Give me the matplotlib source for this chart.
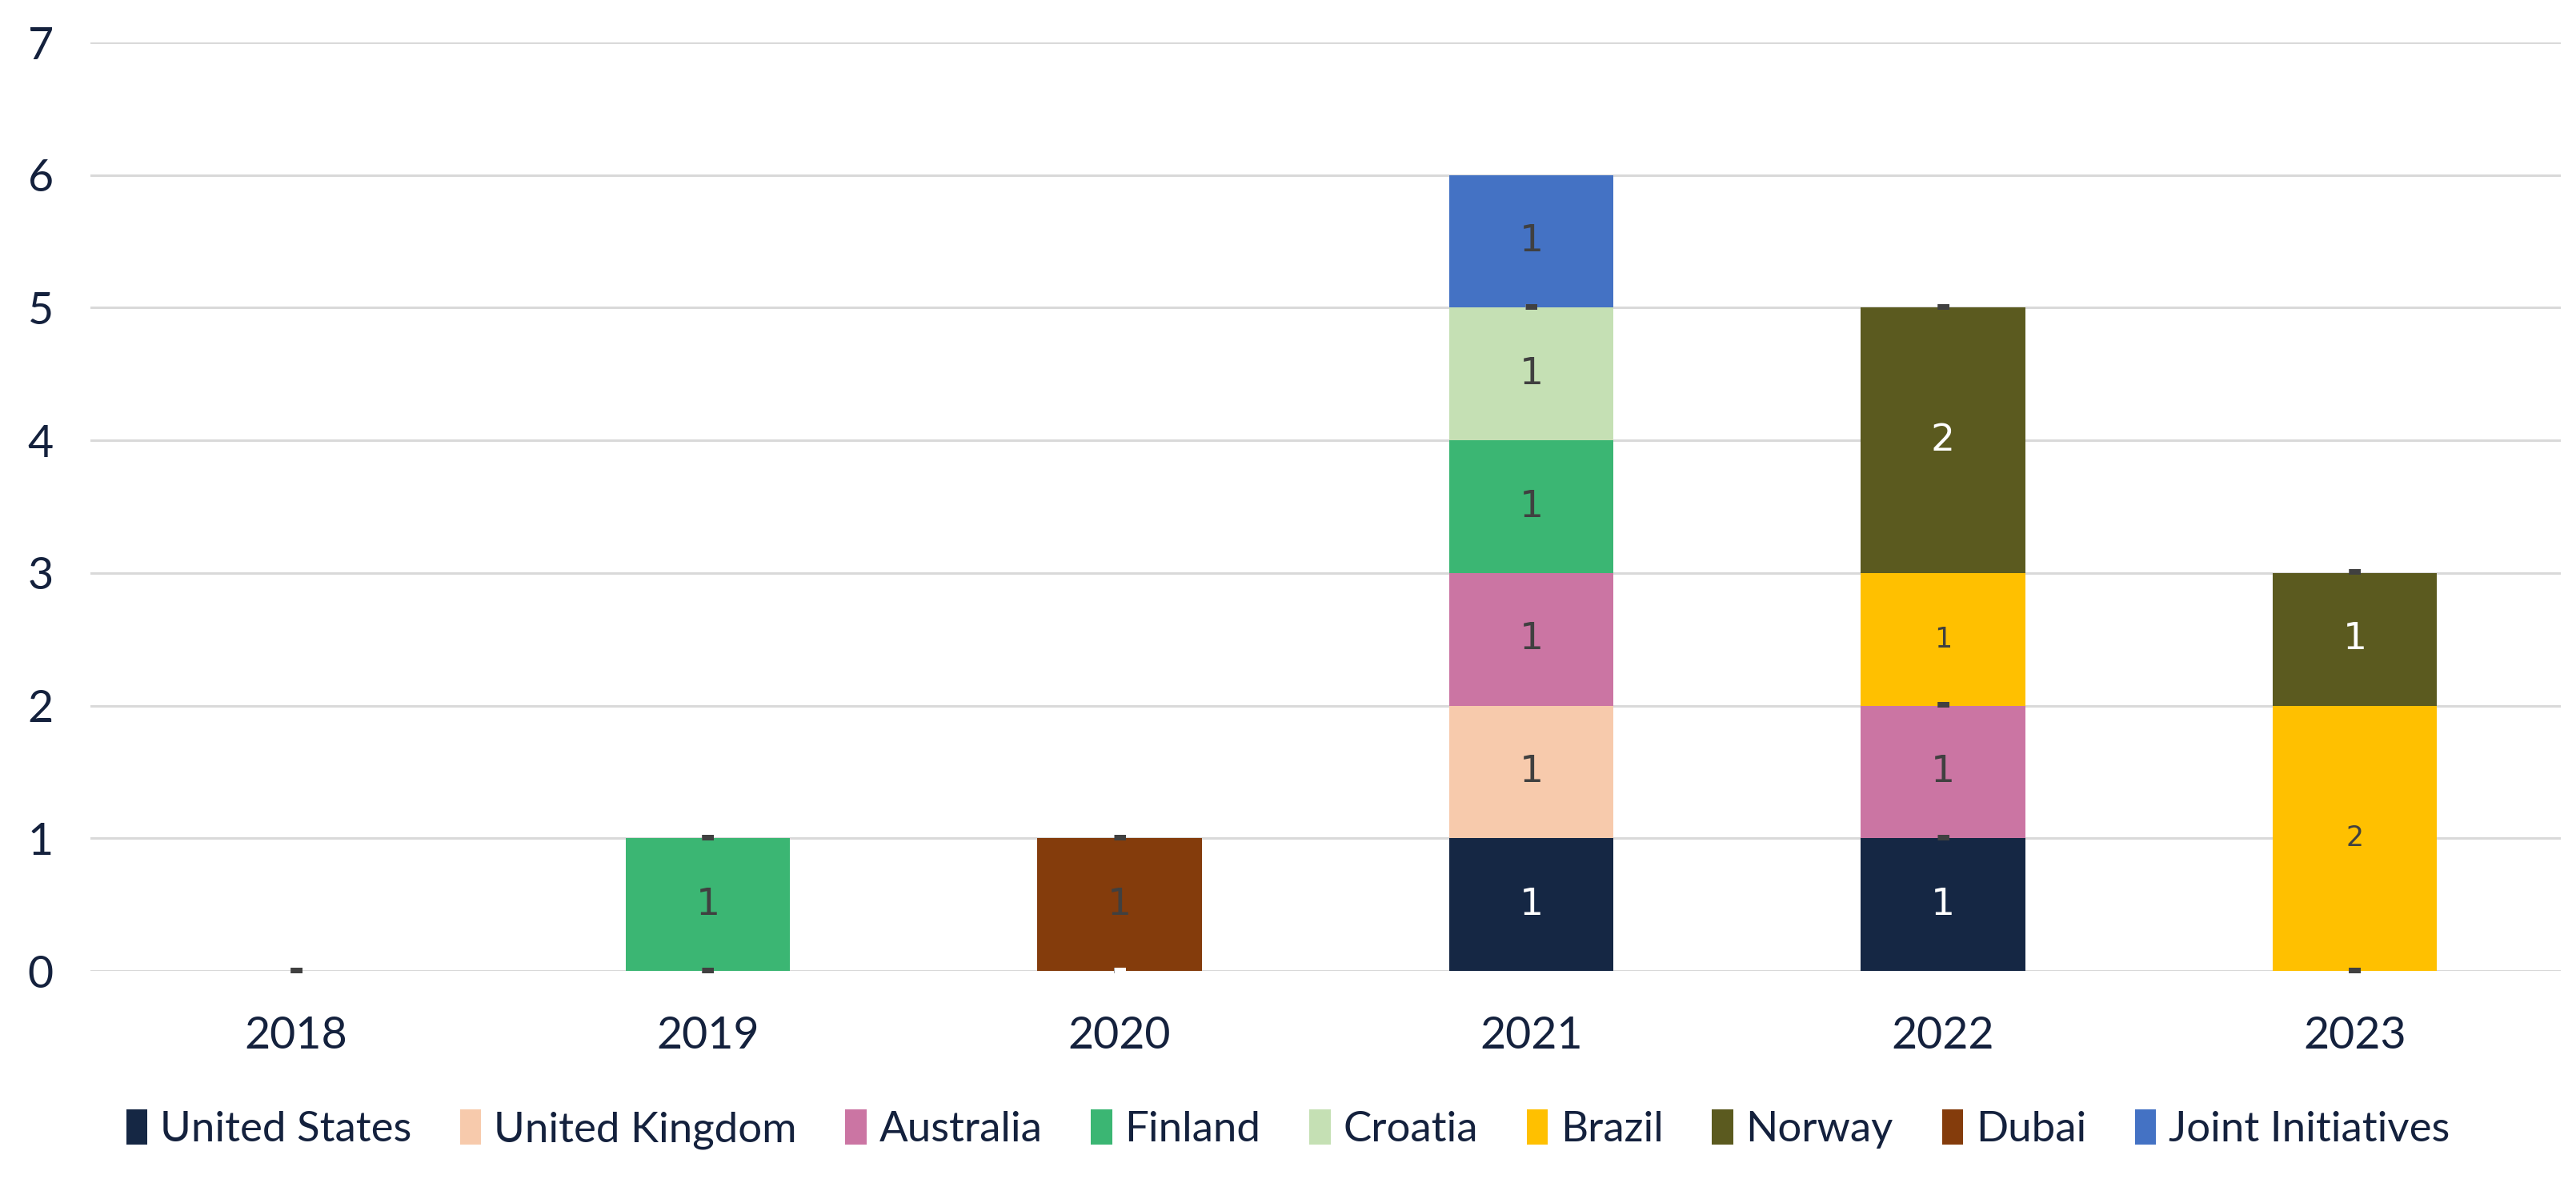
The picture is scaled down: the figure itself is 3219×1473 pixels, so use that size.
import numpy as np
import matplotlib
matplotlib.use("Agg")
import matplotlib.pyplot as plt

# data
years = ["2018", "2019", "2020", "2021", "2022", "2023"]
series_names = ["United States", "United Kingdom", "Australia", "Finland", "Croatia",
                "Brazil", "Norway", "Dubai", "Joint Initiatives"]
united_states = [0, 0, 0, 1, 1, 0]
united_kingdom = [0, 0, 0, 1, 0, 0]
australia = [0, 0, 0, 1, 1, 0]
finland = [0, 1, 0, 1, 0, 0]
croatia = [0, 0, 0, 1, 0, 0]
brazil = [0, 0, 0, 0, 1, 2]
norway = [0, 0, 0, 0, 2, 1]
dubai = [0, 0, 1, 0, 0, 0]
joint = [0, 0, 0, 1, 0, 0]

series = [united_states, united_kingdom, australia, finland, croatia,
          brazil, norway, dubai, joint]
colors = ["#152744", "#F7CAAC", "#CB75A3", "#3BB673", "#C5E0B4",
          "#FFC000", "#5B5A1F", "#843C0C", "#4472C4"]
label_colors = ["white", "#404040", "#404040", "#404040", "#404040",
                "#404040", "white", "#404040", "#404040"]
label_sizes = [34, 34, 34, 34, 34, 25, 34, 34, 34]

navy = "#14213D"
plt.rcParams['font.family'] = ['Lato', 'DejaVu Sans']

fig = plt.figure(figsize=(32.19, 14.73), dpi=100)
ax = fig.add_axes([0.035, 0.1765, 0.959, 0.7875])

x = np.arange(len(years))
bottom = np.zeros(len(years))
handles = []
for name, vals, col, lc, ls in zip(series_names, series, colors, label_colors, label_sizes):
    vals = np.array(vals, dtype=float)
    bars = ax.bar(x, vals, bottom=bottom, width=0.4, color=col, label=name, zorder=3)
    labels = ["-" if v == 0 else "%d" % v for v in vals]
    texts = ax.bar_label(bars, labels=labels, label_type="center", color=lc, fontsize=ls,
                         family="DejaVu Sans", zorder=4)
    for t in texts:
        if t.get_text() == "-":
            t.set_fontweight("bold")
    bottom += vals
    handles.append(bars)

ax.set_xlim(-0.5, len(years) - 0.5)
ax.set_ylim(0, 7)
ax.set_yticks(range(0, 8))
ax.set_xticks(x)
ax.set_xticklabels(years)
ax.yaxis.grid(True, color="#D9D9D9", linewidth=2.2, zorder=0)
ax.set_axisbelow(True)
for s in ax.spines.values():
    s.set_visible(False)
ax.tick_params(axis="both", length=0, labelsize=40, colors=navy)
ax.tick_params(axis="y", pad=33)
ax.tick_params(axis="x", pad=40)

leg = fig.legend(handles=handles, loc="center", bbox_to_anchor=(0.5, 0.042), ncol=9,
                 frameon=False, fontsize=38, handlelength=0.5, handleheight=0.9,
                 handletextpad=0.3, columnspacing=1.15)
for t in leg.get_texts():
    t.set_color(navy)

fig.savefig("out.png", dpi=100)
